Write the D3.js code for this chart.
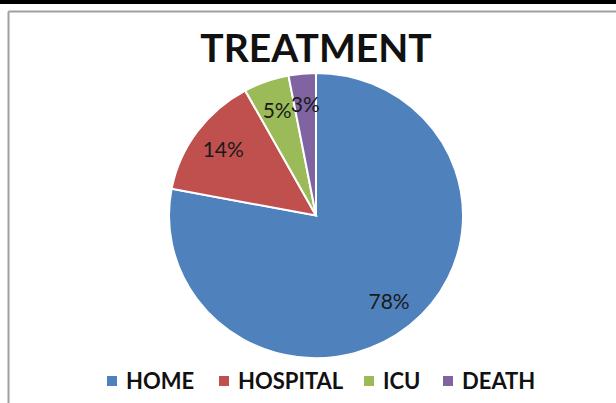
<!DOCTYPE html>
<html>
<head>
<script src="https://d3js.org/d3.v7.min.js"></script>
<style>
  body { margin: 0; background: #fff; }
  svg { display: block; font-family: Lato, "Open Sans", sans-serif; }
</style>
</head>
<body>
<div id="chart"></div>
<script>
// chart data
var categories = ["HOME", "HOSPITAL", "ICU", "DEATH"];
var values = [78, 14, 5, 3];
var colors = ["#4F81BD", "#C0504D", "#9BBB59", "#8064A2"];

var width = 616, height = 403;
var cx = 316, cy = 215.5, r = 147;
var squash = 0.97; // the original picture is a bit flattened vertically

var svg = d3.select("#chart").append("svg")
    .attr("width", width)
    .attr("height", height);

// frame: black strip on top, grey border of the chart area
svg.append("rect").attr("x", 0).attr("y", 0).attr("width", width).attr("height", 4).style("fill", "#000");
svg.append("line").attr("x1", 8.5).attr("y1", 11.5).attr("x2", width).attr("y2", 11.5)
    .style("stroke", "#a0a0a0").style("stroke-width", 2);
svg.append("line").attr("x1", 8.5).attr("y1", 11.5).attr("x2", 8.5).attr("y2", height)
    .style("stroke", "#a0a0a0").style("stroke-width", 2);

svg.append("text")
    .attr("x", cx)
    .attr("y", 62)
    .attr("text-anchor", "middle")
    .style("font-size", "39px")
    .style("font-weight", "bold")
    .style("fill", "#111")
    .text("TREATMENT");

var pie = d3.pie().sort(null).value(function(d){ return d; });
var arcs = pie(values);
var arc = d3.arc().innerRadius(0).outerRadius(r);
var labelArc = d3.arc().innerRadius(r * 0.78).outerRadius(r * 0.78);

var g = svg.append("g").attr("transform", "translate(" + cx + "," + cy + ")");

g.append("g")
    .attr("transform", "scale(1," + squash + ")")
  .selectAll("path")
    .data(arcs)
    .enter().append("path")
    .attr("d", arc)
    .style("fill", function(d, i){ return colors[i]; })
    .style("stroke", "#fff")
    .style("stroke-width", 2);

g.selectAll("text.pct")
    .data(arcs)
    .enter().append("text")
    .attr("class", "pct")
    .attr("transform", function(d){
        var c = labelArc.centroid(d);
        return "translate(" + c[0] + "," + (c[1] * squash) + ")";
    })
    .attr("text-anchor", "middle")
    .attr("dy", "0.35em")
    .style("font-size", "21px")
    .style("fill", "#1a1a1a")
    .text(function(d){ return d.data + "%"; });

// legend
var legendX = [107, 219, 364, 443];
var legend = svg.selectAll("g.leg")
    .data(categories)
    .enter().append("g")
    .attr("class", "leg")
    .attr("transform", function(d, i){ return "translate(" + legendX[i] + ",381)"; });

legend.append("rect")
    .attr("x", 0).attr("y", -5)
    .attr("width", 10).attr("height", 10)
    .style("fill", function(d, i){ return colors[i]; });

legend.append("text")
    .attr("x", 19)
    .attr("dy", "0.36em")
    .style("font-size", "22px")
    .style("font-weight", "bold")
    .style("fill", "#111")
    .text(function(d){ return d; });
</script>
</body>
</html>
